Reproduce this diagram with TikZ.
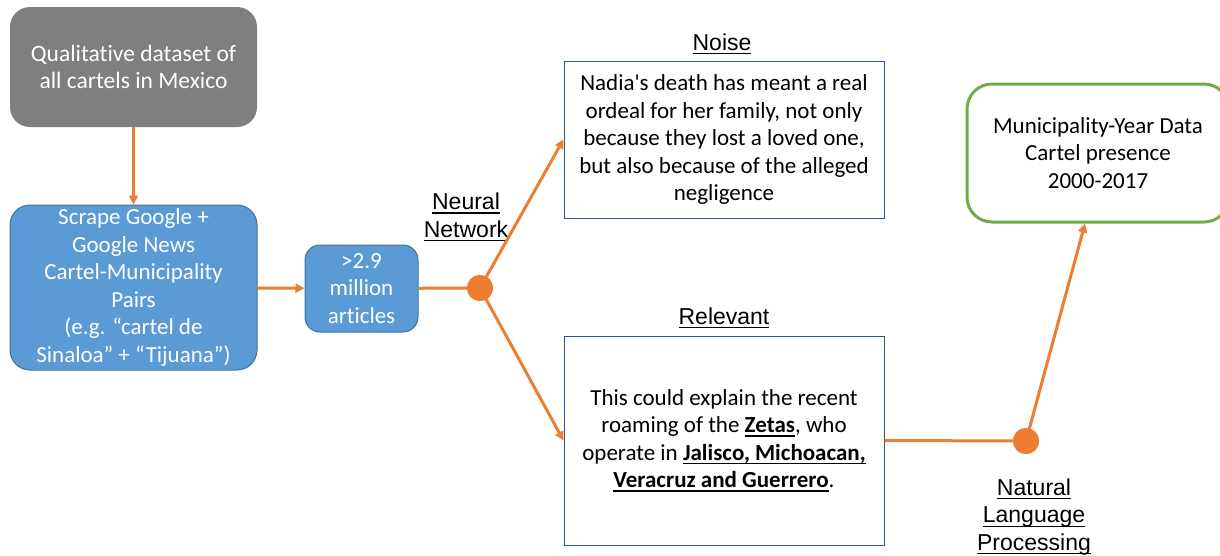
\documentclass[tikz,border=0pt]{standalone}
\usepackage{fontspec}
\setmainfont{Carlito}[Ligatures={NoCommon}]
\newfontfamily\labelfont{Liberation Sans}
\usetikzlibrary{arrows.meta,calc}
% underline with a fixed rule below the baseline
\newcommand\uln[1]{\leavevmode\setbox0\hbox{#1}\rlap{\vrule width\wd0 height -2.6pt depth 4pt}\box0}
\definecolor{flow}{HTML}{ED7D31}
\definecolor{boxblue}{HTML}{5B9BD5}
\definecolor{boxblueedge}{HTML}{41719C}
\definecolor{boxgray}{HTML}{7F7F7F}
\definecolor{textedge}{HTML}{2F5597}
\definecolor{outgreen}{HTML}{70AD47}
\tikzset{
  x=1pt, y=-1pt,
  txt/.style={font=\fontsize{23}{27.5}\selectfont, align=center, inner sep=0pt},
  solidbox/.style={txt, text=white, rounded corners=#1, minimum width=247pt},
  quote/.style={txt, draw=textedge, line width=1pt, minimum width=320pt},
  tag/.style={font=\labelfont\fontsize{23}{27.5}\selectfont, align=center, inner sep=0pt},
  flowline/.style={draw=flow, line width=3pt},
  flowarrow/.style={flowline, -{Triangle[length=9pt,width=9pt]}},
  joint/.style={circle, fill=flow, minimum size=26pt, inner sep=0pt},
}
\begin{document}
\begin{tikzpicture}
\useasboundingbox (0,0) rectangle (1220,555);
\begin{scope}
\clip (0,0) rectangle (1220,555);

% source boxes
\node[solidbox=20pt, fill=boxgray, minimum height=120pt, font=\fontsize{23.5}{27}\selectfont] (data) at (133.5,67)
  {Qualitative dataset of\\all cartels in Mexico};
\node[solidbox=20pt, fill=boxblue, draw=boxblueedge, line width=1pt, minimum height=165pt] (scrape) at (133.5,287.5)
  {Scrape Google +\\Google News\\Cartel-Municipality\\Pairs\\(e.g. “cartel de\\Sinaloa” + “Tijuana”)};
\node[txt, text=white, fill=boxblue, draw=boxblueedge, line width=1pt, rounded corners=15pt,
      minimum width=113pt, minimum height=87pt] (articles) at (361.5,288.5)
  {>2.9\\million\\articles};

% classifier split
\node[joint] (nn) at (480,288) {};
\node[tag] (nnlabel) at (466,217) {\uln{Neural}\\\uln{Network}};

\node[quote, minimum height=157pt] (noise) at (724,139.5)
  {Nadia\textquotesingle s death has meant a real\\ordeal for her family, not only\\because they lost a loved one,\\but also because of the alleged\\negligence};
\node[tag] (noiselabel) at (722,44) {\uln{Noise}};

\node[quote, minimum height=209pt] (relevant) at (724,440.5)
  {This could explain the recent\\roaming of the \uln{\textbf{Zetas}}, who\\operate in \uln{\textbf{Jalisco, Michoacan,}}\\\uln{\textbf{Veracruz and Guerrero}}.};
\node[tag] (rellabel) at (724,318) {\uln{Relevant}};

% output
\node[joint] (nlp) at (1026,441) {};
\node[tag] (nlplabel) at (1034,517) {\uln{Natural}\\\uln{Language}\\\uln{Processing}};
\node[txt, draw=outgreen, line width=3pt, rounded corners=25pt, minimum width=262pt, minimum height=138pt] (panel) at (1098,153)
  {Municipality-Year Data\\Cartel presence\\2000-2017};
\coordinate (panelin) at ($(panel.south)+(-13,0)$);

% connectors
\draw[flowarrow] (data) -- (scrape);
\draw[flowarrow] (scrape) -- (articles);
\draw[flowline] (articles) -- (nn);
\draw[flowarrow] (nn.center) -- (noise.west);
\draw[flowarrow] (nn.center) -- (relevant.west);
\draw[flowline] (relevant.east) -- (nlp.center);
\draw[flowarrow] (nlp.center) -- (panelin);
\node[joint] at (nn) {};
\node[joint] at (nlp) {};
\end{scope}
\end{tikzpicture}
\end{document}
